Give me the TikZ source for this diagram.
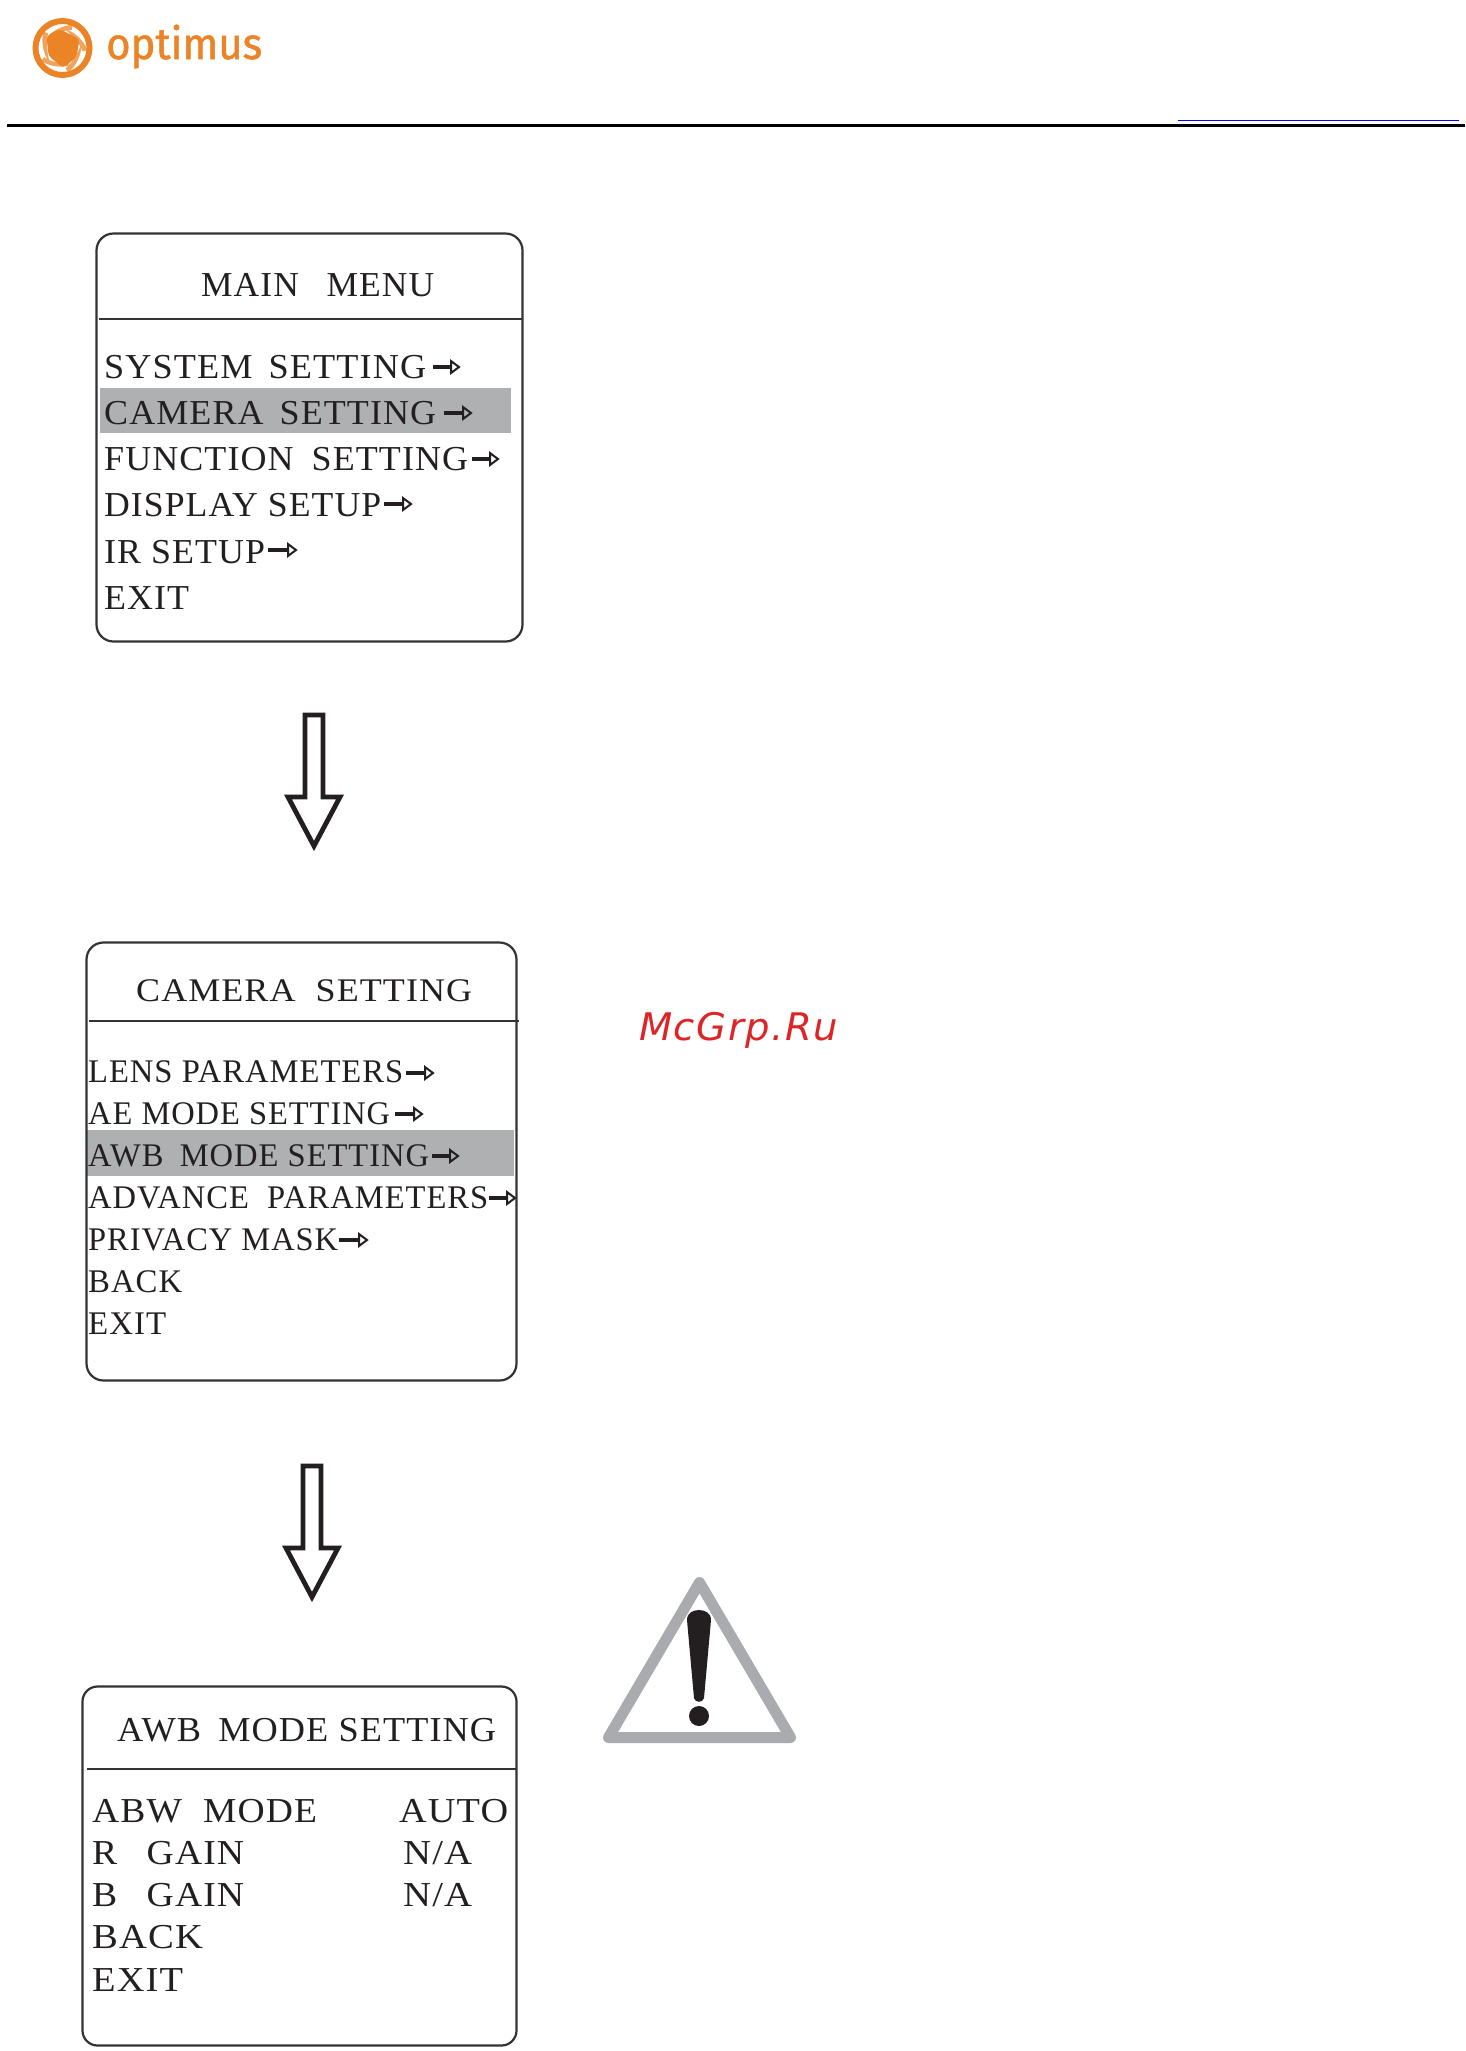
\documentclass[tikz,border=0pt]{standalone}
\usepackage{fontspec}
\usepackage{graphicx}
\setmainfont[LetterSpace=3]{Liberation Serif}
\newfontfamily\logofont[FakeBold=1.2]{Fira Sans}
\newfontfamily\markfont[LetterSpace=4]{DejaVu Sans}
\definecolor{ink}{HTML}{231F20}
\definecolor{hl}{HTML}{AEB0B2}
\definecolor{boxline}{HTML}{333333}
\definecolor{logoorange}{HTML}{EB8426}
\definecolor{warngrey}{HTML}{A9ABAE}
\definecolor{markred}{HTML}{DD2528}
\tikzset{
  menutext/.style={inner sep=0pt,anchor=base west,text=ink},
  sizeA/.style={font=\fontsize{35}{42}\selectfont},
  sizeB/.style={font=\fontsize{33}{40}\selectfont},
  menubox/.style={draw=boxline,line width=2.2pt,rounded corners=17pt},
  divider/.style={draw=boxline,line width=2.2pt},
  hilite/.style={fill=hl},
  bigarrow/.style={draw=ink,line width=4.8pt,fill=white,miter limit=10},
}
% name, size style, x, baseline y, right end x, text
\newcommand{\menuline}[6]{\node[menutext,#2] (#1) at (#3,#4) {\resizebox{\dimexpr #5pt-#3pt\relax}{\height}{#6}};}
% start x, end x, y, head fill
\newcommand{\tinyarrow}[4]{%
  \draw[ink,line width=3.8pt] (#1,#3) -- (#2-7,#3);
  \draw[ink,line width=2pt,fill=#4,line join=miter] (#2-9,#3-6) -- (#2-1,#3) -- (#2-9,#3+6) -- cycle;}
\begin{document}
\begin{tikzpicture}[x=1pt,y=-1pt]
\useasboundingbox (0,0) rectangle (1465,2051);
\fill[white] (0,0) rectangle (1465,2051);

% logo
\begin{scope}[shift={(62.5,48)}]
  \fill[white] (0,0) circle (25);
  \foreach \a in {-70,2,74,146,218}{
    \fill[logoorange!75!white,rotate=\a] (25,3) .. controls (21,-7) and (14,-15) .. (3,-19)
      .. controls (11,-11) and (17,-5) .. (20,4) -- cycle;
  }
  \draw[logoorange,line width=6pt] (0,0) circle (27);
  \fill[logoorange,rounded corners=4pt] (-3,-19) -- (17,-9) -- (14,9) -- (1,20) -- (-14,8) -- (-16,-12) -- cycle;
\end{scope}
\node[inner sep=0pt,anchor=base west,text=logoorange,font=\logofont\fontsize{44}{50}\selectfont] (logotext) at (106,59)
  {\resizebox{156pt}{\height}{optimus}};

% header rules
\draw[black,line width=3.4pt] (7,125.5) -- (1465,125.5);
\draw[blue,line width=1.4pt] (1178,120.5) -- (1459,120.5);

% box 1
\fill[hilite] (100,388) rectangle (511,433);
\draw[menubox] (96.5,233.5) rectangle (522.5,641.5);
\draw[divider] (99,319) -- (522,319);
\menuline{a0}{sizeA}{201}{296}{434}{MAIN\ \ \ \kern-2pt MENU}
\menuline{a1}{sizeA}{104}{378}{426}{SYSTEM\ \ \kern-4pt SETTING}
\menuline{a2}{sizeA}{104}{424}{436}{CAMERA\ \ \kern-4pt SETTING}
\menuline{a3}{sizeA}{104}{470}{468}{FUNCTION\ \ \kern-2pt SETTING}
\menuline{a4}{sizeA}{104}{516}{381}{DISPLAY SETUP}
\menuline{a5}{sizeA}{104}{563}{265}{IR SETUP}
\menuline{a6}{sizeA}{104}{609}{189}{EXIT}
\tinyarrow{433}{460}{367}{white}
\tinyarrow{444}{472}{413}{hl}
\tinyarrow{472}{499}{459}{white}
\tinyarrow{384}{412}{504}{white}
\tinyarrow{268}{297}{550}{white}

% arrow 1
\draw[bigarrow] (305,715) -- (323,715) -- (323,797) -- (340,797) -- (314,846) -- (288,797) -- (305,797) -- cycle;

% box 2
\fill[hilite] (87,1130) rectangle (514,1176);
\draw[menubox] (86.5,942.5) rectangle (516.5,1380.5);
\draw[divider] (89,1021) -- (519,1021);
\menuline{b0}{sizeB}{136}{1001}{472}{CAMERA\ \ SETTING}
\menuline{b1}{sizeB}{88}{1082}{403}{LENS PARAMETERS}
\menuline{b2}{sizeB}{88}{1124}{390}{AE MODE SETTING}
\menuline{b3}{sizeB}{88}{1166}{429}{AWB\ \ \kern-2pt MODE SETTING}
\menuline{b4}{sizeB}{88}{1208}{488}{ADVANCE\ \ PARAMETERS}
\menuline{b5}{sizeB}{88}{1250}{338}{PRIVACY MASK}
\menuline{b6}{sizeB}{88}{1292}{182}{BACK}
\menuline{b7}{sizeB}{88}{1334}{166}{EXIT}
\tinyarrow{406}{434}{1073}{white}
\tinyarrow{395}{423}{1114}{white}
\tinyarrow{432}{459}{1156}{hl}
\tinyarrow{489}{516}{1198}{white}
\tinyarrow{339}{368}{1240}{white}

% arrow 2
\draw[bigarrow] (303,1466) -- (321,1466) -- (321,1548) -- (338,1548) -- (312,1597) -- (286,1548) -- (303,1548) -- cycle;

% box 3
\draw[menubox,rounded corners=15pt] (82.5,1686.5) rectangle (516.5,2045.5);
\draw[divider] (87,1769) -- (517,1769);
\menuline{c0}{sizeA}{117}{1741}{496}{AWB\ \ \kern-3pt MODE SETTING}
\menuline{c1}{sizeA}{92}{1822}{317}{ABW\ \ MODE}
\menuline{c2}{sizeA}{399}{1822}{508}{AUTO}
\menuline{c3}{sizeA}{92}{1864}{244}{R\ \ \ \kern-2pt GAIN}
\menuline{c4}{sizeA}{403}{1864}{472}{N/A}
\menuline{c5}{sizeA}{92}{1906}{244}{B\ \ \ \kern-2pt GAIN}
\menuline{c6}{sizeA}{403}{1906}{472}{N/A}
\menuline{c7}{sizeA}{92}{1948}{203}{BACK}
\menuline{c8}{sizeA}{92}{1991}{183}{EXIT}

% watermark
\node[inner sep=0pt,anchor=base west,text=markred,font=\markfont\itshape\fontsize{38}{46}\selectfont] (mark) at (639,1040)
  {\resizebox{199pt}{\height}{McGrp.Ru}};

% warning sign
\draw[warngrey,line width=11pt,line join=round,fill=white] (699.5,1582.5) -- (790.5,1737.5) -- (608.5,1737.5) -- cycle;
\fill[ink] (687,1620) .. controls (687,1613) and (693,1610) .. (699,1610) .. controls (705,1610) and (711,1613) .. (711,1620)
  -- (704,1698) .. controls (703,1703) and (695,1703) .. (694,1698) -- cycle;
\fill[ink] (699,1716) circle (10);
\end{tikzpicture}
\end{document}
